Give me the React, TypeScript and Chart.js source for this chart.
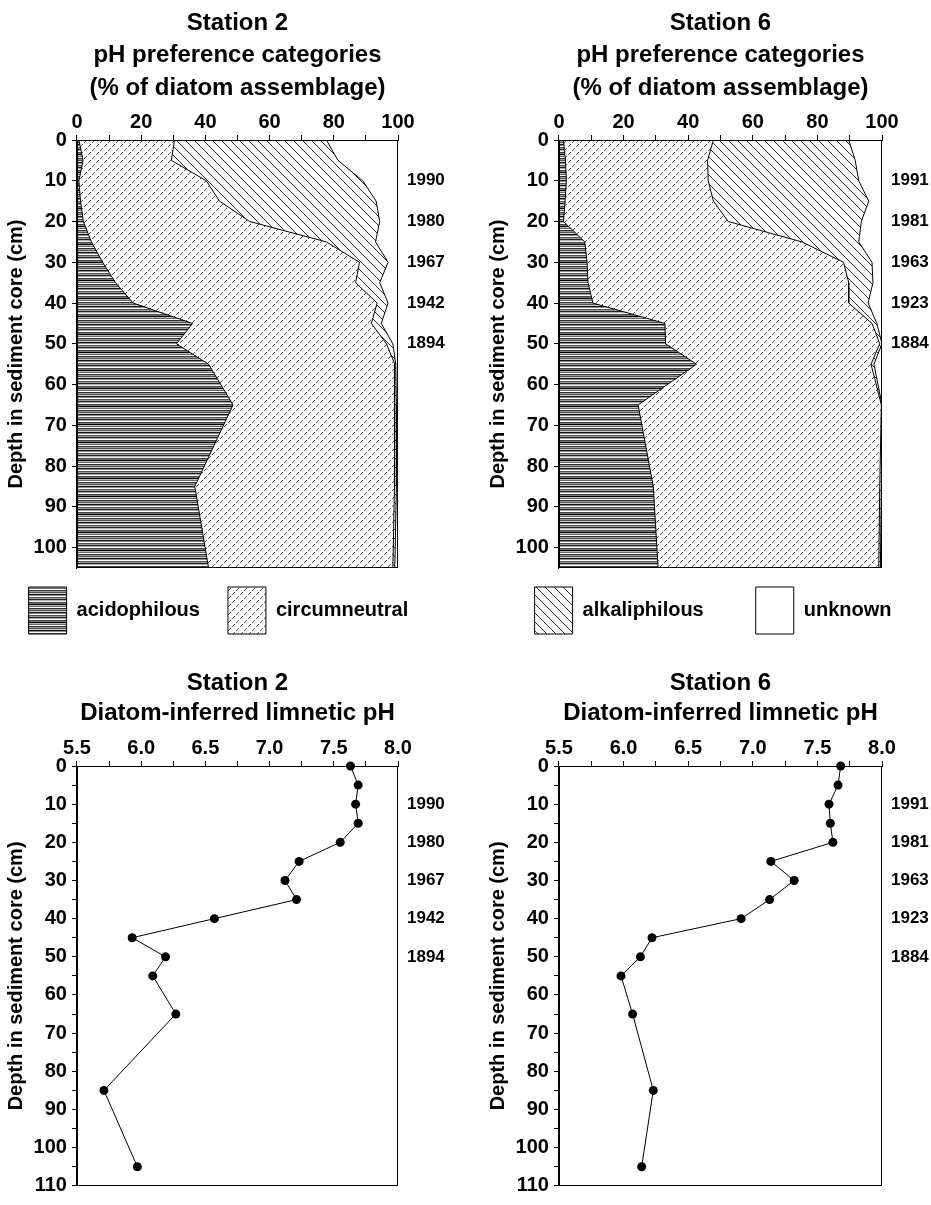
import React, { useEffect, useRef } from 'react';
import { Chart, registerables } from 'chart.js';

Chart.register(...registerables);

const FONT_FAMILY = '"Liberation Sans", Arial, Helvetica, sans-serif';
Chart.defaults.font.family = FONT_FAMILY;
Chart.defaults.color = '#000';

// ---- data ----
const depths = [0, 5, 10, 15, 20, 25, 30, 35, 40, 45, 50, 55, 65, 85, 105];

const categoryNames = ['acidophilous', 'circumneutral', 'alkaliphilous', 'unknown'];

// Station 2, % of diatom assemblage
const st2Acid = [0.6, 1.9, 0.6, 1.1, 2.0, 4.5, 8.0, 12.0, 17.5, 36.0, 31.0, 41.0, 48.6, 36.7, 41.0];
const st2Circ = [29.8, 27.5, 39.7, 43.3, 51.8, 73.2, 80.0, 74.8, 76.0, 55.7, 65.4, 58.0, 50.4, 62.1, 57.4];
const st2Alk = [47.3, 51.9, 48.7, 48.8, 40.5, 15.3, 8.9, 7.5, 3.4, 3.1, 2.0, 0.3, 0.5, 0.7, 0.6];
const st2Unk = [22.3, 18.7, 11.0, 6.8, 5.7, 7.0, 3.1, 5.7, 3.1, 5.2, 1.6, 0.7, 0.5, 0.5, 1.0];

// Station 6, % of diatom assemblage
const st6Acid = [1.4, 2.0, 2.3, 1.9, 1.4, 8.0, 8.7, 9.0, 10.5, 32.8, 33.0, 42.6, 24.5, 29.2, 30.7];
const st6Circ = [46.4, 44.0, 43.9, 45.9, 51.0, 67.2, 79.4, 80.7, 79.2, 64.1, 66.3, 54.0, 75.3, 70.1, 68.3];
const st6Alk = [41.9, 45.7, 46.6, 48.1, 41.2, 17.6, 8.8, 7.5, 6.0, 1.5, 0.7, 0.9, 0.2, 0.5, 0.5];
const st6Unk = [10.3, 8.3, 7.2, 4.1, 6.4, 7.2, 3.1, 2.8, 4.3, 1.6, 0.0, 2.5, 0.0, 0.2, 0.5];

// Diatom-inferred limnetic pH
const st2PH = [7.63, 7.69, 7.67, 7.69, 7.55, 7.23, 7.12, 7.21, 6.57, 5.93, 6.19, 6.09, 6.27, 5.71, 5.97];
const st6PH = [7.68, 7.66, 7.59, 7.60, 7.62, 7.14, 7.32, 7.13, 6.91, 6.22, 6.13, 5.98, 6.07, 6.23, 6.14];

// tick labels
const pctDepthTicks = [0, 10, 20, 30, 40, 50, 60, 70, 80, 90, 100];

// dating labels
const yearDepths = [10, 20, 30, 40, 50];
const st2Years = ['1990', '1980', '1967', '1942', '1894'];
const st6Years = ['1991', '1981', '1963', '1923', '1884'];

const depthTitle = 'Depth in sediment core (cm)';

// ---- helpers ----
function makePattern(kind: string): CanvasPattern | string {
  const c = document.createElement('canvas');
  const g = c.getContext('2d');
  if (!g) return '#888';
  if (kind === 'acid') {
    const rows = ['#111', '#8a8a8a', '#fff', '#555', '#9a9a9a', '#222', '#aaa', '#fff', '#444', '#777', '#000', '#bbb', '#666', '#fff', '#333', '#999', '#555', '#ccc'];
    c.width = 4;
    c.height = rows.length;
    rows.forEach((col, i) => {
      g.fillStyle = col;
      g.fillRect(0, i, 4, 1);
    });
  } else if (kind === 'circ') {
    c.width = 8;
    c.height = 8;
    g.fillStyle = '#fff';
    g.fillRect(0, 0, 8, 8);
    g.fillStyle = '#555';
    [[2, 0], [1, 1], [0, 2], [6, 4], [5, 5], [4, 6]].forEach(([x, y]) => g.fillRect(x, y, 1, 1));
  } else {
    c.width = 9;
    c.height = 9;
    g.fillStyle = '#fff';
    g.fillRect(0, 0, 9, 9);
    g.fillStyle = '#333';
    for (let i = 0; i < 9; i++) g.fillRect(i, i, 1, 1);
  }
  return g.createPattern(c, 'repeat') || '#888';
}

const legendShift = {
  id: 'legendShift',
  afterLayout(chart: any, _args: any, opts: any) {
    const l = chart.legend;
    const dy = (opts && opts.dy) || 0;
    if (l && dy) {
      l.top += dy;
      l.bottom += dy;
    }
  },
};

const framePlugin = {
  id: 'frame',
  afterDatasetsDraw(chart: any) {
    const { ctx, chartArea: a } = chart;
    ctx.save();
    ctx.strokeStyle = '#000';
    ctx.lineWidth = 1;
    const l = Math.round(a.left) + 0.5;
    const t = Math.round(a.top) + 0.5;
    const r = Math.round(a.right) - 0.5;
    const b = Math.round(a.bottom) - 0.5;
    ctx.strokeRect(l, t, r - l, b - t);
    ctx.restore();
  },
};

const tickFont = { size: 20, weight: 'bold' as const };
const axisGrid = { drawOnChartArea: false, tickLength: 5, color: '#000', lineWidth: 1 };
const axisBorder = { color: '#000', width: 1 };

function yearAxis(years: string[], max: number, width: number) {
  return {
    type: 'linear',
    axis: 'y',
    position: 'right',
    min: 0,
    max,
    reverse: true,
    grid: { display: false, drawTicks: false },
    border: { display: false },
    ticks: {
      stepSize: 10,
      autoSkip: false,
      padding: 9,
      font: { size: 17, weight: 'bold' as const },
      callback: (v: number) => {
        const i = yearDepths.indexOf(v);
        return i >= 0 ? years[i] : '';
      },
    },
    afterFit: (s: any) => {
      s.width = width;
    },
  };
}

function pctConfig(
  station: string,
  acid: number[],
  circ: number[],
  alk: number[],
  unk: number[],
  years: string[],
  shown: number[],
  legendPad: number,
  legendDy: number,
  padL: number,
  padR: number,
  yearW: number
): any {
  const fills = [makePattern('acid'), makePattern('circ'), makePattern('alk'), '#fff'];
  const series = [acid, circ, alk, unk];
  return {
    type: 'line',
    data: {
      datasets: series.map((vals, k) => ({
        label: categoryNames[k],
        data: depths.map((d, i) => ({ x: vals[i], y: d })),
        backgroundColor: fills[k],
        borderColor: '#000',
        borderWidth: 1,
        pointRadius: 0,
        tension: 0,
        fill: k === 0 ? 'origin' : '-1',
      })),
    },
    options: {
      animation: false,
      responsive: false,
      indexAxis: 'y',
      events: [],
      layout: { padding: { left: padL, right: padR, top: 0, bottom: 0 } },
      scales: {
        x: {
          type: 'linear',
          position: 'top',
          min: 0,
          max: 100,
          stacked: true,
          grid: axisGrid,
          border: axisBorder,
          ticks: {
            stepSize: 10,
            autoSkip: false,
            maxRotation: 0,
            padding: 1,
            font: tickFont,
            callback: (v: number) => (v % 20 === 0 ? String(v) : ''),
          },
        },
        y: {
          type: 'linear',
          position: 'left',
          min: 0,
          max: 105,
          reverse: true,
          grid: axisGrid,
          border: axisBorder,
          afterBuildTicks: (s: any) => {
            s.ticks = pctDepthTicks.map((v) => ({ value: v }));
          },
          ticks: {
            autoSkip: false,
            padding: 5,
            font: tickFont,
            callback: (v: number) => String(v),
          },
          title: {
            display: true,
            text: depthTitle,
            font: { size: 20, weight: 'bold' as const },
            padding: { top: 4, bottom: 0 },
          },
        },
        y2: yearAxis(years, 105, yearW),
      },
      plugins: {
        filler: { drawTime: 'beforeDatasetsDraw' },
        tooltip: { enabled: false },
        title: {
          display: true,
          fullSize: false,
          text: [station, 'pH preference categories', '(% of diatom assemblage)'],
          font: { size: 24, weight: 'bold' as const, lineHeight: 1.35 },
          color: '#000',
          padding: { top: 7, bottom: 4.8 },
        },
        legend: {
          display: true,
          position: 'bottom',
          align: 'start',
          labels: {
            boxWidth: 38,
            boxHeight: 47,
            padding: legendPad,
            color: '#000',
            font: { size: 20, weight: 'bold' as const },
            filter: (item: any) => shown.includes(item.datasetIndex),
          },
        },
        legendShift: { dy: legendDy },
      },
    },
    plugins: [legendShift, framePlugin],
  };
}

function phConfig(station: string, ph: number[], years: string[], padL: number, padR: number): any {
  return {
    type: 'line',
    data: {
      datasets: [
        {
          label: 'pH',
          data: depths.map((d, i) => ({ x: ph[i], y: d })),
          borderColor: '#000',
          borderWidth: 1,
          pointRadius: 4.5,
          pointBackgroundColor: '#000',
          pointBorderColor: '#000',
          pointBorderWidth: 0,
          tension: 0,
          fill: false,
          clip: false,
        },
      ],
    },
    options: {
      animation: false,
      responsive: false,
      indexAxis: 'y',
      events: [],
      layout: { padding: { left: padL, right: padR, top: 0, bottom: 19 } },
      scales: {
        x: {
          type: 'linear',
          position: 'top',
          min: 5.5,
          max: 8.0,
          grid: axisGrid,
          border: axisBorder,
          ticks: {
            stepSize: 0.25,
            autoSkip: false,
            maxRotation: 0,
            padding: 1,
            font: tickFont,
            callback: (v: number) => (Math.abs(v * 2 - Math.round(v * 2)) < 1e-6 ? v.toFixed(1) : ''),
          },
        },
        y: {
          type: 'linear',
          position: 'left',
          min: 0,
          max: 110,
          reverse: true,
          grid: axisGrid,
          border: axisBorder,
          ticks: {
            stepSize: 5,
            autoSkip: false,
            padding: 5,
            font: tickFont,
            callback: (v: number) => (v % 10 === 0 ? String(v) : ''),
          },
          title: {
            display: true,
            text: depthTitle,
            font: { size: 20, weight: 'bold' as const },
            padding: { top: 4, bottom: 0 },
          },
        },
        y2: yearAxis(years, 110, 49),
      },
      plugins: {
        tooltip: { enabled: false },
        legend: { display: false },
        title: {
          display: true,
          fullSize: false,
          text: [station, 'Diatom-inferred limnetic pH'],
          font: { size: 24, weight: 'bold' as const, lineHeight: 1.25 },
          color: '#000',
          padding: { top: 8, bottom: 7 },
        },
      },
    },
    plugins: [framePlugin],
  };
}

const buildTopLeft = () =>
  pctConfig('Station 2', st2Acid, st2Circ, st2Alk, st2Unk, st2Years, [0, 1], 28, -9, 0.6, 18, 49);
const buildTopRight = () =>
  pctConfig('Station 6', st6Acid, st6Circ, st6Alk, st6Unk, st6Years, [2, 3], 52, -33, 2.6, 0, 65);
const buildBottomLeft = () => phConfig('Station 2', st2PH, st2Years, 0.6, 18);
const buildBottomRight = () => phConfig('Station 6', st6PH, st6Years, 2.6, 0);

type BoxProps = { left: number; top: number; width: number; height: number; build: () => any };

function ChartCanvas({ left, top, width, height, build }: BoxProps) {
  const ref = useRef<HTMLCanvasElement | null>(null);
  useEffect(() => {
    if (!ref.current) return;
    const chart = new Chart(ref.current, build());
    return () => chart.destroy();
  }, [build]);
  return (
    <canvas
      ref={ref}
      width={width}
      height={height}
      style={{ position: 'absolute', left, top, width, height }}
    />
  );
}

export default function App() {
  return (
    <div style={{ position: 'absolute', left: 0, top: 0, width: 931, height: 1205, background: '#fff', overflow: 'hidden' }}>
      <ChartCanvas left={0} top={0} width={465} height={653} build={buildTopLeft} />
      <ChartCanvas left={480} top={0} width={467} height={677} build={buildTopRight} />
      <ChartCanvas left={0} top={660} width={465} height={545} build={buildBottomLeft} />
      <ChartCanvas left={480} top={660} width={451} height={545} build={buildBottomRight} />
    </div>
  );
}
